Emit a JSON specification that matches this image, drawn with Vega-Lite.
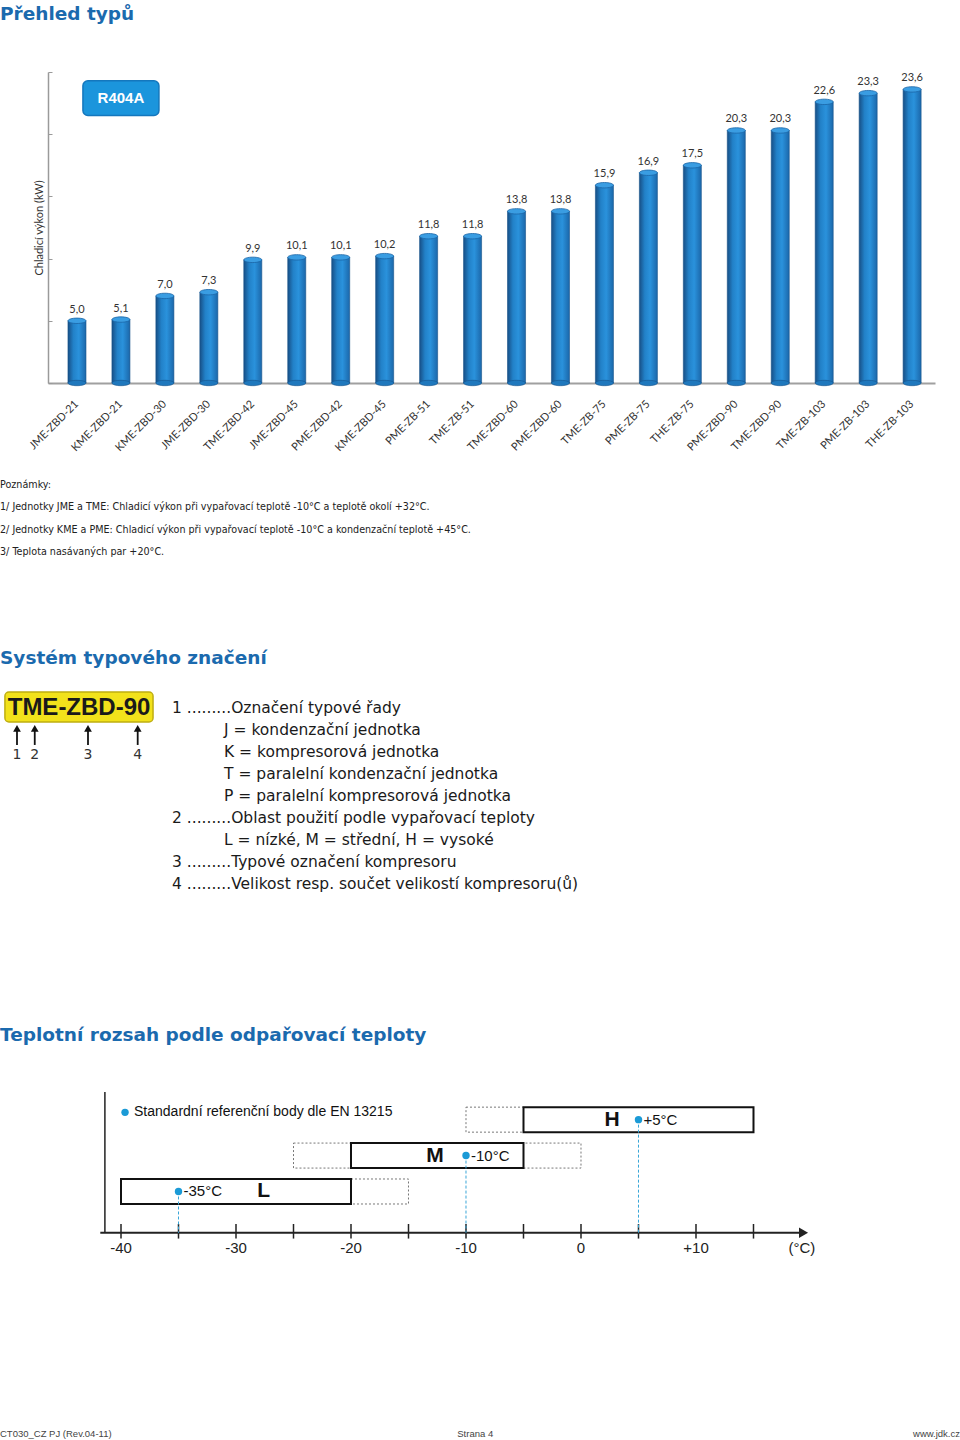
{
"$schema": "https://vega.github.io/schema/vega-lite/v6.json",
"background": "white",
"padding": {"top": 5, "left": 0, "right": 0, "bottom": 0},
"bounds": "flush",
"spacing": 0,
"config": {
  "view": {"stroke": null},
  "locale": {"number": {"decimal": ",", "thousands": " ", "grouping": [3], "currency": ["", " Kč"]}},
  "title": {"font": "DejaVu Sans", "fontWeight": "bold", "fontSize": 18.5, "color": "#1b6aae", "anchor": "start", "frame": "group"}
},
"datasets": {
  "models": [
    {"model": "JME-ZBD-21", "kw": 5.0},
    {"model": "KME-ZBD-21", "kw": 5.1},
    {"model": "KME-ZBD-30", "kw": 7.0},
    {"model": "JME-ZBD-30", "kw": 7.3},
    {"model": "TME-ZBD-42", "kw": 9.9},
    {"model": "JME-ZBD-45", "kw": 10.1},
    {"model": "PME-ZBD-42", "kw": 10.1},
    {"model": "KME-ZBD-45", "kw": 10.2},
    {"model": "PME-ZB-51", "kw": 11.8},
    {"model": "TME-ZB-51", "kw": 11.8},
    {"model": "TME-ZBD-60", "kw": 13.8},
    {"model": "PME-ZBD-60", "kw": 13.8},
    {"model": "TME-ZB-75", "kw": 15.9},
    {"model": "PME-ZB-75", "kw": 16.9},
    {"model": "THE-ZB-75", "kw": 17.5},
    {"model": "PME-ZBD-90", "kw": 20.3},
    {"model": "TME-ZBD-90", "kw": 20.3},
    {"model": "TME-ZB-103", "kw": 22.6},
    {"model": "PME-ZB-103", "kw": 23.3},
    {"model": "THE-ZB-103", "kw": 23.6}
  ],
  "notes": [
    {"line": 0, "text": "Poznámky:"},
    {"line": 1, "text": "1/ Jednotky JME a TME: Chladicí výkon při vypařovací teplotě -10°C a teplotě okolí +32°C."},
    {"line": 2, "text": "2/ Jednotky KME a PME: Chladicí výkon při vypařovací teplotě -10°C a kondenzační teplotě +45°C."},
    {"line": 3, "text": "3/ Teplota nasávaných par +20°C."}
  ],
  "designation": [
    {"line": 0, "level": 1, "text": "1 .........Označení typové řady"},
    {"line": 1, "level": 2, "text": "J = kondenzační jednotka"},
    {"line": 2, "level": 2, "text": "K = kompresorová jednotka"},
    {"line": 3, "level": 2, "text": "T = paralelní kondenzační jednotka"},
    {"line": 4, "level": 2, "text": "P = paralelní kompresorová jednotka"},
    {"line": 5, "level": 1, "text": "2 .........Oblast použití podle vypařovací teploty"},
    {"line": 6, "level": 2, "text": "L = nízké, M = střední, H = vysoké"},
    {"line": 7, "level": 1, "text": "3 .........Typové označení kompresoru"},
    {"line": 8, "level": 1, "text": "4 .........Velikost resp. součet velikostí kompresoru(ů)"}
  ],
  "parts": [
    {"part": "1", "pos": 0},
    {"part": "2", "pos": 1.25},
    {"part": "3", "pos": 5},
    {"part": "4", "pos": 8.5}
  ],
  "ranges": [
    {"range": "L", "kind": "extended", "lvl": 1, "from": -20, "to": -15},
    {"range": "M", "kind": "extended", "lvl": 2, "from": -25, "to": 0},
    {"range": "H", "kind": "extended", "lvl": 3, "from": -10, "to": -5},
    {"range": "L", "kind": "core", "lvl": 1, "from": -40, "to": -20},
    {"range": "M", "kind": "core", "lvl": 2, "from": -20, "to": -5},
    {"range": "H", "kind": "core", "lvl": 3, "from": -5, "to": 15}
  ],
  "refpoints": [
    {"range": "L", "lvl": 1, "t": -35, "label": "-35°C"},
    {"range": "M", "lvl": 2, "t": -10, "label": "-10°C"},
    {"range": "H", "lvl": 3, "t": 5, "label": "+5°C"}
  ],
  "ticks": [
    {"t": -40}, {"t": -35}, {"t": -30}, {"t": -25}, {"t": -20}, {"t": -15},
    {"t": -10}, {"t": -5}, {"t": 0}, {"t": 5}, {"t": 10}, {"t": 15}
  ],
  "ticklabels": [
    {"t": -40, "label": "-40"}, {"t": -30, "label": "-30"}, {"t": -20, "label": "-20"},
    {"t": -10, "label": "-10"}, {"t": 0, "label": "0"}, {"t": 10, "label": "+10"}
  ]
},
"vconcat": [
  {
    "width": 960,
    "height": 311,
    "title": {"text": "Přehled typů", "offset": 48},
    "data": {"name": "models"},
    "layer": [
      {
        "mark": {"type": "bar", "stroke": "#15528a", "strokeWidth": 0.6,
          "fill": {"gradient": "linear", "x1": 0, "y1": 0, "x2": 1, "y2": 0,
            "stops": [{"offset": 0, "color": "#174f86"}, {"offset": 0.3, "color": "#2281c8"}, {"offset": 0.6, "color": "#2a92dc"}, {"offset": 1, "color": "#1b67aa"}]}},
        "encoding": {
          "x": {"field": "model", "type": "nominal",
            "scale": {"domain": ["JME-ZBD-21","KME-ZBD-21","KME-ZBD-30","JME-ZBD-30","TME-ZBD-42","JME-ZBD-45","PME-ZBD-42","KME-ZBD-45","PME-ZB-51","TME-ZB-51","TME-ZBD-60","PME-ZBD-60","TME-ZB-75","PME-ZB-75","THE-ZB-75","PME-ZBD-90","TME-ZBD-90","TME-ZB-103","PME-ZB-103","THE-ZB-103"],
              "range": [48, 935], "paddingInner": 0.59, "paddingOuter": 0.385, "align": 0.59},
            "axis": {"title": null, "domain": true, "domainColor": "#a0a0a0", "domainWidth": 2, "ticks": false, "labelAngle": -45, "labelAlign": "right", "labelBaseline": "middle", "labelPadding": 19, "labelFont": "Lato", "labelFontSize": 11, "labelColor": "#333"}},
          "y": {"field": "kw", "type": "quantitative", "scale": {"domain": [0, 25], "nice": false},
            "axis": {"title": "Chladicí výkon (kW)", "offset": -48, "values": [0, 5, 10, 15, 20, 25], "labels": false, "ticks": true, "tickSize": -4, "tickColor": "#9a9a9a", "domainColor": "#9a9a9a", "domainWidth": 1.5, "grid": false, "titleFont": "Lato", "titleFontSize": 11, "titleFontWeight": "normal", "titleColor": "#333", "titlePadding": 3}}
        }
      },
      {
        "mark": {"type": "point", "shape": "M -1 0 A 1 0.3 0 1 1 1 0 A 1 0.3 0 1 1 -1 0 Z", "filled": true, "size": 324, "fill": "#1f78bd", "stroke": "#15528a", "strokeWidth": 0.6, "opacity": 1},
        "encoding": {
          "x": {"field": "model", "type": "nominal"},
          "y": {"datum": 0}
        }
      },
      {
        "mark": {"type": "point", "shape": "M -1 0 A 1 0.3 0 1 1 1 0 A 1 0.3 0 1 1 -1 0 Z", "filled": true, "size": 324, "fill": "#3a9de2", "stroke": "#1a64a6", "strokeWidth": 0.8, "opacity": 1},
        "encoding": {
          "x": {"field": "model", "type": "nominal"},
          "y": {"field": "kw", "type": "quantitative"}
        }
      },
      {
        "mark": {"type": "text", "dy": -11, "font": "Lato", "fontSize": 11, "color": "#333", "baseline": "middle"},
        "encoding": {
          "x": {"field": "model", "type": "nominal"},
          "y": {"field": "kw", "type": "quantitative"},
          "text": {"field": "kw", "type": "quantitative", "format": ".1f"}
        }
      },
      {
        "data": {"values": [{"label": "R404A"}]},
        "mark": {"type": "bar", "width": 76, "cornerRadius": 5, "fill": "#1b95dc", "stroke": "#1477bd", "strokeWidth": 1.5},
        "encoding": {
          "x": {"datum": "KME-ZBD-21", "type": "nominal"},
          "y": {"datum": 24.3},
          "y2": {"datum": 21.5}
        }
      },
      {
        "data": {"values": [{"label": "R404A"}]},
        "mark": {"type": "text", "font": "Liberation Sans", "fontWeight": "bold", "fontSize": 15, "color": "white", "baseline": "middle"},
        "encoding": {
          "x": {"datum": "KME-ZBD-21", "type": "nominal"},
          "y": {"datum": 22.9},
          "text": {"field": "label"}
        }
      }
    ]
  },
  {
    "width": 960,
    "height": 309,
    "data": {"name": "notes"},
    "mark": {"type": "text", "align": "left", "baseline": "middle", "font": "DejaVu Sans", "fontSize": 9.6, "color": "#222"},
    "encoding": {
      "x": {"datum": 0, "type": "quantitative", "scale": {"domain": [0, 1], "nice": false}, "axis": null},
      "y": {"field": "line", "type": "quantitative", "scale": {"domain": [-4.568, 9.27], "nice": false, "zero": false, "reverse": true}, "axis": null},
      "text": {"field": "text"}
    }
  },
  {
    "width": 960,
    "height": 395,
    "title": {"text": "Systém typového značení", "offset": 24},
    "resolve": {"scale": {"x": "independent"}},
    "layer": [
      {
        "data": {"values": [{"code": "TME-ZBD-90"}]},
        "mark": {"type": "rect", "fill": "#f2e21b", "stroke": "#bfae10", "strokeWidth": 1.5, "cornerRadius": 4},
        "encoding": {
          "x": {"datum": -0.85, "type": "quantitative", "scale": {"domain": [-1.197, 66.41], "nice": false, "zero": false}, "axis": null},
          "x2": {"datum": 9.58},
          "y": {"datum": -0.727, "type": "quantitative", "scale": {"domain": [-0.727, 17.227], "nice": false, "zero": false, "reverse": true}, "axis": null},
          "y2": {"datum": 0.636}
        }
      },
      {
        "data": {"values": [{"code": "TME-ZBD-90"}]},
        "mark": {"type": "text", "font": "Liberation Sans", "fontWeight": "bold", "fontSize": 24, "color": "#1a1a1a", "align": "center", "baseline": "middle"},
        "encoding": {
          "x": {"datum": 4.37, "type": "quantitative", "scale": {"domain": [-1.197, 66.41], "nice": false, "zero": false}, "axis": null},
          "y": {"datum": -0.02, "type": "quantitative", "scale": {"domain": [-0.727, 17.227], "nice": false, "zero": false, "reverse": true}, "axis": null},
          "text": {"field": "code"}
        }
      },
      {
        "data": {"name": "parts"},
        "mark": {"type": "rule", "stroke": "#111", "strokeWidth": 1.8},
        "encoding": {
          "x": {"field": "pos", "type": "quantitative", "scale": {"domain": [-1.197, 66.41], "nice": false, "zero": false}, "axis": null},
          "y": {"datum": 0.95, "type": "quantitative", "scale": {"domain": [-0.727, 17.227], "nice": false, "zero": false, "reverse": true}, "axis": null},
          "y2": {"datum": 1.68}
        }
      },
      {
        "data": {"name": "parts"},
        "mark": {"type": "point", "shape": "triangle-up", "filled": true, "size": 60, "color": "#111", "opacity": 1},
        "encoding": {
          "x": {"field": "pos", "type": "quantitative", "scale": {"domain": [-1.197, 66.41], "nice": false, "zero": false}, "axis": null},
          "y": {"datum": 0.93, "type": "quantitative", "scale": {"domain": [-0.727, 17.227], "nice": false, "zero": false, "reverse": true}, "axis": null}
        }
      },
      {
        "data": {"name": "parts"},
        "mark": {"type": "text", "font": "DejaVu Sans", "fontSize": 14, "color": "#333", "baseline": "middle"},
        "encoding": {
          "x": {"field": "pos", "type": "quantitative", "scale": {"domain": [-1.197, 66.41], "nice": false, "zero": false}, "axis": null},
          "y": {"datum": 2.14, "type": "quantitative", "scale": {"domain": [-0.727, 17.227], "nice": false, "zero": false, "reverse": true}, "axis": null},
          "text": {"field": "part"}
        }
      },
      {
        "data": {"name": "designation"},
        "mark": {"type": "text", "align": "left", "baseline": "middle", "font": "DejaVu Sans", "fontSize": 15.5, "color": "#1a1a1a"},
        "encoding": {
          "x": {"field": "level", "type": "quantitative", "scale": {"domain": [-2.308, 16.154], "nice": false, "zero": false}, "axis": null},
          "y": {"field": "line", "type": "quantitative", "scale": {"domain": [-0.727, 17.227], "nice": false, "zero": false, "reverse": true}, "axis": null},
          "text": {"field": "text"}
        }
      }
    ]
  },
  {
    "width": 960,
    "height": 341,
    "title": {"text": "Teplotní rozsah podle odpařovací teploty", "offset": 43},
    "layer": [
      {
        "data": {"values": [{"axis": "y"}]},
        "mark": {"type": "rule", "stroke": "#222", "strokeWidth": 1.5},
        "encoding": {
          "x": {"datum": -41.4, "type": "quantitative", "scale": {"domain": [-50.522, 32.957], "nice": false, "zero": false}, "axis": null},
          "y": {"datum": 3.77, "type": "quantitative", "scale": {"domain": [-5.446, 3.77], "nice": false, "zero": false}, "axis": null},
          "y2": {"datum": -0.149}
        }
      },
      {
        "data": {"values": [{"axis": "x"}]},
        "mark": {"type": "rule", "stroke": "#222", "strokeWidth": 2},
        "encoding": {
          "x": {"datum": -41.8, "type": "quantitative", "scale": {"domain": [-50.522, 32.957], "nice": false, "zero": false}, "axis": null},
          "x2": {"datum": 19.2},
          "y": {"datum": -0.149, "type": "quantitative", "scale": {"domain": [-5.446, 3.77], "nice": false, "zero": false}, "axis": null}
        }
      },
      {
        "data": {"values": [{"axis": "x"}]},
        "mark": {"type": "point", "shape": "triangle-right", "filled": true, "size": 110, "color": "#222", "opacity": 1},
        "encoding": {
          "x": {"datum": 19.35, "type": "quantitative", "scale": {"domain": [-50.522, 32.957], "nice": false, "zero": false}, "axis": null},
          "y": {"datum": -0.149, "type": "quantitative", "scale": {"domain": [-5.446, 3.77], "nice": false, "zero": false}, "axis": null}
        }
      },
      {
        "data": {"name": "ticks"},
        "mark": {"type": "rule", "stroke": "#222", "strokeWidth": 1.5},
        "encoding": {
          "x": {"field": "t", "type": "quantitative", "scale": {"domain": [-50.522, 32.957], "nice": false, "zero": false}, "axis": null},
          "y": {"datum": 0.095, "type": "quantitative", "scale": {"domain": [-5.446, 3.77], "nice": false, "zero": false}, "axis": null},
          "y2": {"datum": -0.311}
        }
      },
      {
        "data": {"name": "ticklabels"},
        "mark": {"type": "text", "font": "Liberation Sans", "fontSize": 15, "color": "#222", "baseline": "middle"},
        "encoding": {
          "x": {"field": "t", "type": "quantitative", "scale": {"domain": [-50.522, 32.957], "nice": false, "zero": false}, "axis": null},
          "y": {"datum": -0.56, "type": "quantitative", "scale": {"domain": [-5.446, 3.77], "nice": false, "zero": false}, "axis": null},
          "text": {"field": "label"}
        }
      },
      {
        "data": {"values": [{"unit": "(°C)"}]},
        "mark": {"type": "text", "font": "Liberation Sans", "fontSize": 15, "color": "#222", "baseline": "middle"},
        "encoding": {
          "x": {"datum": 19.2, "type": "quantitative", "scale": {"domain": [-50.522, 32.957], "nice": false, "zero": false}, "axis": null},
          "y": {"datum": -0.56, "type": "quantitative", "scale": {"domain": [-5.446, 3.77], "nice": false, "zero": false}, "axis": null},
          "text": {"field": "unit"}
        }
      },
      {
        "data": {"name": "ranges"},
        "transform": [{"filter": "datum.kind == 'extended'"}],
        "mark": {"type": "bar", "size": 25, "fill": "white", "stroke": "#777", "strokeWidth": 1, "strokeDash": [2, 2]},
        "encoding": {
          "x": {"field": "from", "type": "quantitative", "scale": {"domain": [-50.522, 32.957], "nice": false, "zero": false}, "axis": null},
          "x2": {"field": "to"},
          "y": {"field": "lvl", "type": "quantitative", "scale": {"domain": [-5.446, 3.77], "nice": false, "zero": false}, "axis": null}
        }
      },
      {
        "data": {"name": "ranges"},
        "transform": [{"filter": "datum.kind == 'core'"}],
        "mark": {"type": "bar", "size": 25, "fill": "white", "stroke": "#111", "strokeWidth": 2},
        "encoding": {
          "x": {"field": "from", "type": "quantitative", "scale": {"domain": [-50.522, 32.957], "nice": false, "zero": false}, "axis": null},
          "x2": {"field": "to"},
          "y": {"field": "lvl", "type": "quantitative", "scale": {"domain": [-5.446, 3.77], "nice": false, "zero": false}, "axis": null}
        }
      },
      {
        "data": {"name": "refpoints"},
        "mark": {"type": "rule", "stroke": "#3aa6d8", "strokeWidth": 1, "strokeDash": [3, 2]},
        "encoding": {
          "x": {"field": "t", "type": "quantitative", "scale": {"domain": [-50.522, 32.957], "nice": false, "zero": false}, "axis": null},
          "y": {"field": "lvl", "type": "quantitative", "scale": {"domain": [-5.446, 3.77], "nice": false, "zero": false}, "axis": null},
          "y2": {"datum": -0.149}
        }
      },
      {
        "data": {"name": "refpoints"},
        "mark": {"type": "point", "filled": true, "size": 55, "color": "#1b9ad6", "opacity": 1},
        "encoding": {
          "x": {"field": "t", "type": "quantitative", "scale": {"domain": [-50.522, 32.957], "nice": false, "zero": false}, "axis": null},
          "y": {"field": "lvl", "type": "quantitative", "scale": {"domain": [-5.446, 3.77], "nice": false, "zero": false}, "axis": null}
        }
      },
      {
        "data": {"name": "refpoints"},
        "mark": {"type": "text", "align": "left", "baseline": "middle", "dx": 5, "font": "Liberation Sans", "fontSize": 15, "color": "#111"},
        "encoding": {
          "x": {"field": "t", "type": "quantitative", "scale": {"domain": [-50.522, 32.957], "nice": false, "zero": false}, "axis": null},
          "y": {"field": "lvl", "type": "quantitative", "scale": {"domain": [-5.446, 3.77], "nice": false, "zero": false}, "axis": null},
          "text": {"field": "label"}
        }
      },
      {
        "data": {"values": [{"range": "L"}]},
        "mark": {"type": "text", "font": "Liberation Sans", "fontWeight": "bold", "fontSize": 21, "color": "#111", "baseline": "middle"},
        "encoding": {
          "x": {"datum": -27.6, "type": "quantitative", "scale": {"domain": [-50.522, 32.957], "nice": false, "zero": false}, "axis": null},
          "y": {"datum": 1, "type": "quantitative", "scale": {"domain": [-5.446, 3.77], "nice": false, "zero": false}, "axis": null},
          "text": {"field": "range"}
        }
      },
      {
        "data": {"values": [{"range": "M"}]},
        "mark": {"type": "text", "font": "Liberation Sans", "fontWeight": "bold", "fontSize": 21, "color": "#111", "baseline": "middle"},
        "encoding": {
          "x": {"datum": -12.7, "type": "quantitative", "scale": {"domain": [-50.522, 32.957], "nice": false, "zero": false}, "axis": null},
          "y": {"datum": 2, "type": "quantitative", "scale": {"domain": [-5.446, 3.77], "nice": false, "zero": false}, "axis": null},
          "text": {"field": "range"}
        }
      },
      {
        "data": {"values": [{"range": "H"}]},
        "mark": {"type": "text", "font": "Liberation Sans", "fontWeight": "bold", "fontSize": 21, "color": "#111", "baseline": "middle"},
        "encoding": {
          "x": {"datum": 2.7, "type": "quantitative", "scale": {"domain": [-50.522, 32.957], "nice": false, "zero": false}, "axis": null},
          "y": {"datum": 3, "type": "quantitative", "scale": {"domain": [-5.446, 3.77], "nice": false, "zero": false}, "axis": null},
          "text": {"field": "range"}
        }
      },
      {
        "data": {"values": [{"legend": "Standardní referenční body dle EN 13215"}]},
        "mark": {"type": "point", "filled": true, "size": 55, "color": "#1b9ad6", "opacity": 1},
        "encoding": {
          "x": {"datum": -39.65, "type": "quantitative", "scale": {"domain": [-50.522, 32.957], "nice": false, "zero": false}, "axis": null},
          "y": {"datum": 3.203, "type": "quantitative", "scale": {"domain": [-5.446, 3.77], "nice": false, "zero": false}, "axis": null}
        }
      },
      {
        "data": {"values": [{"legend": "Standardní referenční body dle EN 13215"}]},
        "mark": {"type": "text", "align": "left", "baseline": "middle", "dx": 9, "font": "Liberation Sans", "fontSize": 14, "color": "#111"},
        "encoding": {
          "x": {"datum": -39.65, "type": "quantitative", "scale": {"domain": [-50.522, 32.957], "nice": false, "zero": false}, "axis": null},
          "y": {"datum": 3.203, "type": "quantitative", "scale": {"domain": [-5.446, 3.77], "nice": false, "zero": false}, "axis": null},
          "text": {"field": "legend"}
        }
      }
    ]
  },
  {
    "width": 960,
    "height": 12,
    "layer": [
      {
        "data": {"values": [{"text": "CT030_CZ PJ (Rev.04-11)"}]},
        "mark": {"type": "text", "align": "left", "baseline": "middle", "font": "Liberation Sans", "fontSize": 9.5, "color": "#444"},
        "encoding": {
          "x": {"datum": 0, "type": "quantitative", "scale": {"domain": [0, 1], "nice": false}, "axis": null},
          "y": {"datum": 0.5, "type": "quantitative", "scale": {"domain": [0, 1], "nice": false}, "axis": null},
          "text": {"field": "text"}
        }
      },
      {
        "data": {"values": [{"text": "Strana 4"}]},
        "mark": {"type": "text", "align": "center", "baseline": "middle", "font": "Liberation Sans", "fontSize": 9.5, "color": "#444"},
        "encoding": {
          "x": {"datum": 0.495, "type": "quantitative", "scale": {"domain": [0, 1], "nice": false}, "axis": null},
          "y": {"datum": 0.5, "type": "quantitative", "scale": {"domain": [0, 1], "nice": false}, "axis": null},
          "text": {"field": "text"}
        }
      },
      {
        "data": {"values": [{"text": "www.jdk.cz"}]},
        "mark": {"type": "text", "align": "right", "baseline": "middle", "font": "Liberation Sans", "fontSize": 9.5, "color": "#444"},
        "encoding": {
          "x": {"datum": 1, "type": "quantitative", "scale": {"domain": [0, 1], "nice": false}, "axis": null},
          "y": {"datum": 0.5, "type": "quantitative", "scale": {"domain": [0, 1], "nice": false}, "axis": null},
          "text": {"field": "text"}
        }
      }
    ]
  }
]
}
